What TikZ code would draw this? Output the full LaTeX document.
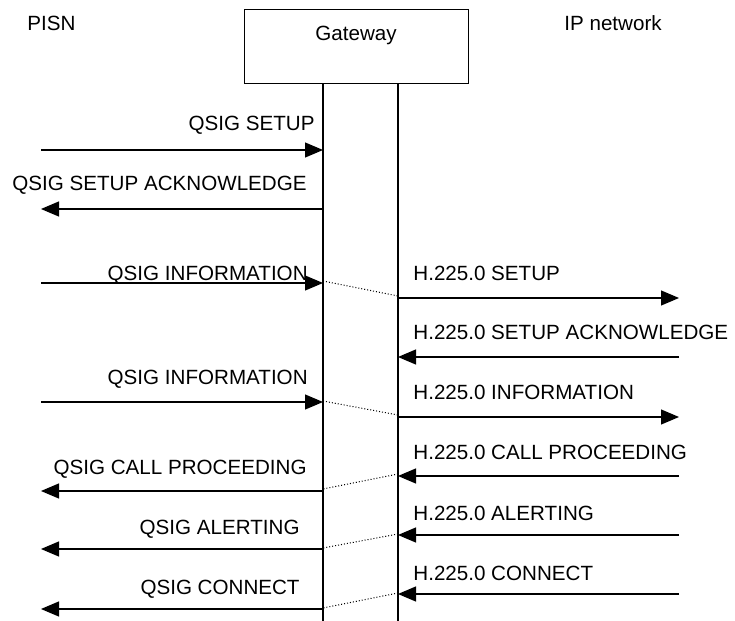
\documentclass[tikz,border=0pt]{standalone}
\usepackage{fontspec}
\setmainfont{Liberation Sans}
\usepackage{tikz}
\usetikzlibrary{arrows.meta, positioning, calc}

\begin{document}
\begin{tikzpicture}[x=0.5pt,y=-0.5pt,
  font=\fontsize{10.3pt}{12pt}\selectfont,
  line/.style={line width=0.6pt},
  msg/.style={line width=0.6pt,-{Triangle[length=9pt,width=7.5pt]}},
  lbl/.style={inner sep=0pt},
  link/.style={densely dotted,line width=0.5pt}]
\useasboundingbox (0,0) rectangle (735,621);

% Entities
\node[lbl,anchor=base west] (pisn) at (27,30.5) {PISN};
\node[lbl,anchor=base west] (ipnet) at (564,30.5) {IP network};
\node[draw,line width=0.6pt,anchor=north west,minimum width=112pt,minimum height=37pt] (gw) at (244,9) {};
\node[lbl,anchor=base] (gwtext) at (356,40.5) {Gateway};

% Lifelines
\coordinate (gwL) at (323,83);
\coordinate (gwR) at (398,83);
\coordinate (gwLend) at (323,621);
\coordinate (gwRend) at (398,621);
\draw[line] (gwL) -- (gwLend);
\draw[line] (gwR) -- (gwRend);

% PISN side
\coordinate (p1) at (41,150);
\coordinate (p2) at (41,209);
\coordinate (p3) at (41,283);
\coordinate (p4) at (41,402);
\coordinate (p5) at (41,491);
\coordinate (p6) at (41,549);
\coordinate (p7) at (41,609);
\draw[msg] (p1) -- (p1 -| gwL);
\draw[msg] (p2 -| gwL) -- (p2);
\draw[msg] (p3) -- (p3 -| gwL);
\draw[msg] (p4) -- (p4 -| gwL);
\draw[msg] (p5 -| gwL) -- (p5);
\draw[msg] (p6 -| gwL) -- (p6);
\draw[msg] (p7 -| gwL) -- (p7);
\node[lbl,anchor=base east] (q1) at (315,130.5) {QSIG SETUP};
\node[lbl,anchor=base east] (q2) at (307,190.5) {QSIG SETUP ACKNOWLEDGE};
\node[lbl,anchor=base east] (q3) at (308,280.5) {QSIG INFORMATION};
\node[lbl,anchor=base east] (q4) at (308,384.5) {QSIG INFORMATION};
\node[lbl,anchor=base east] (q5) at (307,474.5) {QSIG CALL PROCEEDING};
\node[lbl,anchor=base east] (q6) at (300,534.5) {QSIG ALERTING};
\node[lbl,anchor=base east] (q7) at (300,594.5) {QSIG CONNECT};

% IP network side
\coordinate (i1) at (679,298);
\coordinate (i2) at (679,357);
\coordinate (i3) at (679,417);
\coordinate (i4) at (679,476);
\coordinate (i5) at (679,535);
\coordinate (i6) at (679,594);
\draw[msg] (i1 -| gwR) -- (i1);
\draw[msg] (i2) -- (i2 -| gwR);
\draw[msg] (i3 -| gwR) -- (i3);
\draw[msg] (i4) -- (i4 -| gwR);
\draw[msg] (i5) -- (i5 -| gwR);
\draw[msg] (i6) -- (i6 -| gwR);
\node[lbl,anchor=base west] (h1) at (413,280.5) {H.225.0 SETUP};
\node[lbl,anchor=base west] (h2) at (413,339.5) {H.225.0 SETUP ACKNOWLEDGE};
\node[lbl,anchor=base west] (h3) at (413,399.5) {H.225.0 INFORMATION};
\node[lbl,anchor=base west] (h4) at (413,459.5) {H.225.0 CALL PROCEEDING};
\node[lbl,anchor=base west] (h5) at (413,520.5) {H.225.0 ALERTING};
\node[lbl,anchor=base west] (h6) at (413,580.5) {H.225.0 CONNECT};

% Interworking
\coordinate (d1a) at (323,281);
\coordinate (d1b) at (398,296);
\coordinate (d2a) at (323,401);
\coordinate (d2b) at (398,415);
\coordinate (d3a) at (398,474);
\coordinate (d3b) at (323,489);
\coordinate (d4a) at (398,534);
\coordinate (d4b) at (323,548);
\coordinate (d5a) at (398,593);
\coordinate (d5b) at (323,608);
\draw[link] (d1a) -- (d1b);
\draw[link] (d2a) -- (d2b);
\draw[link] (d3a) -- (d3b);
\draw[link] (d4a) -- (d4b);
\draw[link] (d5a) -- (d5b);
\end{tikzpicture}
\end{document}
